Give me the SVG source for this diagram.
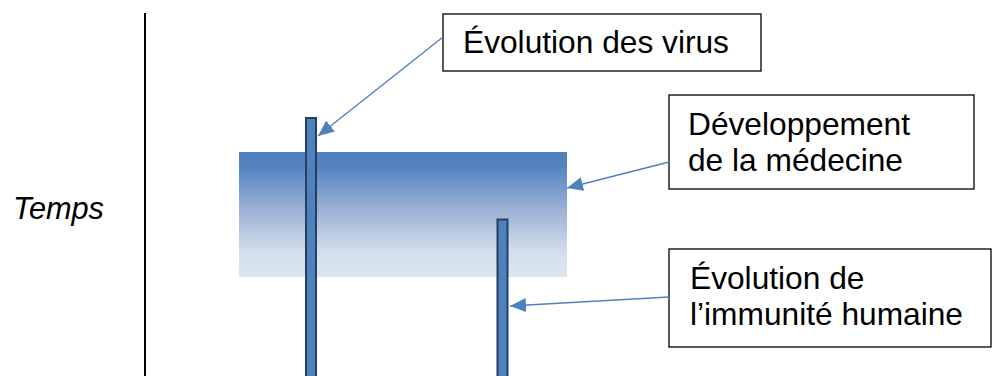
<svg xmlns="http://www.w3.org/2000/svg" width="994" height="376" viewBox="0 0 994 376">
  <style>
    .lbl { font-family: "Liberation Sans", Arial, sans-serif; font-size: 31.7px; fill: #000; }
    .box { fill: #fff; stroke: #000; stroke-width: 1.3; }
    .bar { fill: #4F81BD; stroke: #243F60; stroke-width: 2; }
    .conn { stroke: #4F81BD; stroke-width: 1.4; fill: none; marker-end: url(#head); }
  </style>
  <defs>
    <linearGradient id="medFade" x1="0" y1="0" x2="0" y2="1">
      <stop offset="0" stop-color="#4F81BD"/>
      <stop offset="0.12" stop-color="#5485C0"/>
      <stop offset="0.45" stop-color="#98B0D5"/>
      <stop offset="0.8" stop-color="#D3DEED"/>
      <stop offset="1" stop-color="#DCE6F2"/>
    </linearGradient>
    <marker id="head" markerUnits="userSpaceOnUse" markerWidth="18" markerHeight="14" refX="16" refY="7" orient="auto">
      <path d="M0,0 L16,7 L0,14 Z" fill="#4F81BD"/>
    </marker>
  </defs>

  <!-- time axis -->
  <g id="axis">
    <line x1="145" y1="13" x2="145" y2="376" stroke="#000" stroke-width="2"/>
    <text class="lbl" x="13" y="219" font-style="italic" style="font-size:30.7px">Temps</text>
  </g>

  <!-- medicine band -->
  <g id="medecine-band">
    <rect x="239" y="152" width="328" height="125" fill="url(#medFade)"/>
  </g>

  <!-- evolution bars -->
  <g id="bar-virus">
    <rect class="bar" x="306" y="118" width="10" height="270"/>
  </g>
  <g id="bar-immunite">
    <rect class="bar" x="497.5" y="219.5" width="10" height="170"/>
  </g>

  <!-- labels -->
  <g id="label-virus">
    <rect class="box" x="443" y="14" width="318" height="57"/>
    <text class="lbl" x="463" y="53">Évolution des virus</text>
  </g>
  <g id="label-medecine">
    <rect class="box" x="669" y="95" width="305" height="94"/>
    <text class="lbl" x="688" y="135">Développement</text>
    <text class="lbl" x="688" y="171">de la médecine</text>
  </g>
  <g id="label-immunite">
    <rect class="box" x="669" y="249" width="322" height="98"/>
    <text class="lbl" x="690" y="289">Évolution de</text>
    <text class="lbl" x="690" y="325">l’immunité humaine</text>
  </g>

  <!-- connectors -->
  <g id="connectors">
    <line class="conn" x1="443" y1="37" x2="318" y2="136"/>
    <line class="conn" x1="669" y1="162" x2="567" y2="188"/>
    <line class="conn" x1="669" y1="297" x2="510" y2="306"/>
  </g>
</svg>
